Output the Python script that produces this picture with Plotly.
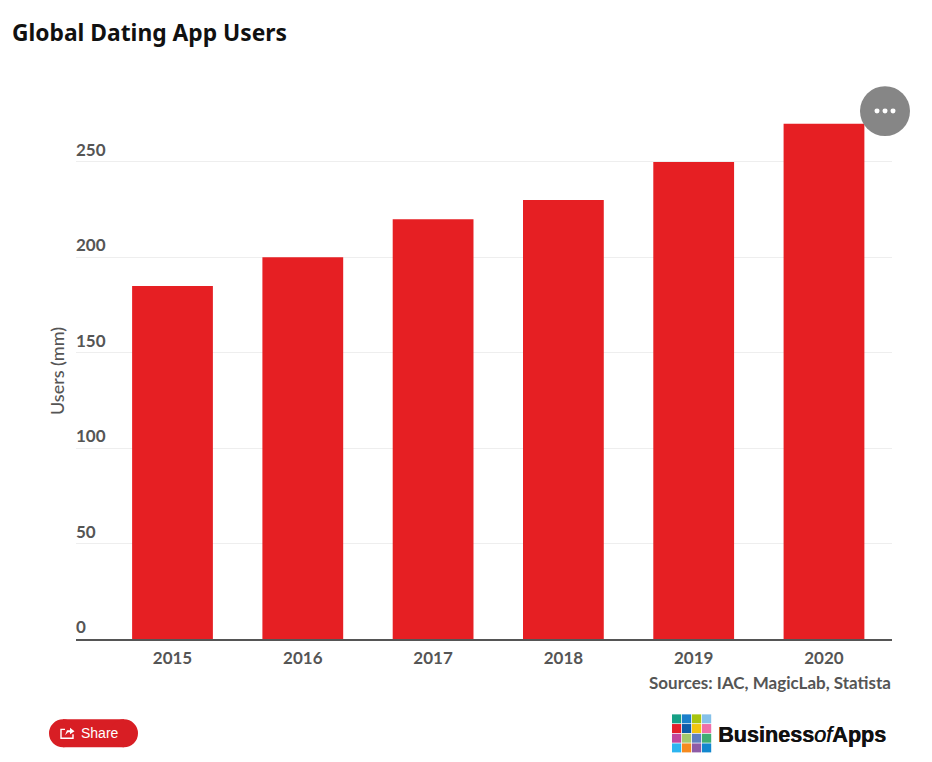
import plotly.graph_objects as go

years = ["2015", "2016", "2017", "2018", "2019", "2020"]
users = [185, 200, 220, 230, 250, 270]
y_ticks = [0, 50, 100, 150, 200, 250]
logo_colors = [
    ["#16A085", "#1B7FCB", "#A8C511", "#85C1E9"],
    ["#E5202A", "#0F5CA8", "#F1C40F", "#EE6FA8"],
    ["#C0479E", "#A5C96B", "#5F7FC0", "#3FAE72"],
    ["#2CB5F0", "#F58A1F", "#8E5BA6", "#1287CE"],
]

W, H = 932, 762
L, R, T, B = 76, 892, 109.5, 639.5


def px(x):
    return (x - L) / (R - L)


def py(y):
    return (B - y) / (B - T)


fig = go.Figure(
    go.Bar(x=years, y=users, marker=dict(color="#E61F23", line=dict(width=0)), width=0.62, hoverinfo="x+y")
)

shapes = [
    # more-options button
    dict(type="circle", xref="paper", yref="paper", x0=px(860), x1=px(910), y0=py(135.6), y1=py(85.6),
         fillcolor="#868686", line=dict(width=0)),
    # share pill
    dict(type="rect", xref="paper", yref="paper", x0=px(63), x1=px(124), y0=py(748), y1=py(720),
         fillcolor="#D81E24", line=dict(width=0)),
    dict(type="circle", xref="paper", yref="paper", x0=px(49), x1=px(77), y0=py(748), y1=py(720),
         fillcolor="#D81E24", line=dict(width=0)),
    dict(type="circle", xref="paper", yref="paper", x0=px(110), x1=px(138), y0=py(748), y1=py(720),
         fillcolor="#D81E24", line=dict(width=0)),
    # share icon
    dict(type="path", xref="paper", yref="paper",
         path=f"M {px(65)} {py(730)} L {px(61)} {py(730)} L {px(61)} {py(739)} L {px(73)} {py(739)} L {px(73)} {py(735)}",
         line=dict(color="white", width=1.4)),
    dict(type="path", xref="paper", yref="paper",
         path=f"M {px(65)} {py(736)} L {px(67)} {py(731)} L {px(70)} {py(731)} L {px(70)} {py(728.5)} L {px(74.5)} {py(732)} L {px(70)} {py(735)} L {px(70)} {py(733)} L {px(68)} {py(733)} Z",
         fillcolor="white", line=dict(width=0)),
]
for dot in (877, 885, 893):
    shapes.append(dict(type="circle", xref="paper", yref="paper", x0=px(dot - 2.5), x1=px(dot + 2.5),
                       y0=py(113), y1=py(108), fillcolor="white", line=dict(width=0)))
for r, row in enumerate(logo_colors):
    for c, col in enumerate(row):
        x0 = 672 + c * 10
        y0 = 715 + r * 9.7
        shapes.append(dict(type="rect", xref="paper", yref="paper", x0=px(x0), x1=px(x0 + 9.2),
                           y0=py(y0 + 9), y1=py(y0), fillcolor=col, line=dict(width=0)))

annotations = [
    dict(text="<b>Global Dating App Users</b>", xref="paper", yref="paper", x=px(9.5), y=py(32),
         xanchor="left", yanchor="middle", showarrow=False,
         font=dict(family="Noto Sans", size=22.8, color="#111111")),
    dict(text="Sources: IAC, MagicLab, Statista", xref="paper", yref="paper", x=px(893), y=py(683.5),
         xanchor="right", yanchor="middle", showarrow=False,
         font=dict(family="Lato", size=17, color="#555555", weight=700)),
    dict(text="Users (mm)", xref="paper", yref="paper", x=px(57), y=py(371), textangle=-90,
         xanchor="center", yanchor="middle", showarrow=False,
         font=dict(family="Lato", size=18, color="#555555", weight=500)),
    dict(text="Share", xref="paper", yref="paper", x=px(100), y=py(734),
         xanchor="center", yanchor="middle", showarrow=False,
         font=dict(family="Liberation Sans", size=14, color="white")),
    dict(text="<b>Business</b><i>of</i><b>Apps</b>", xref="paper", yref="paper", x=px(716), y=py(735),
         xanchor="left", yanchor="middle", showarrow=False,
         font=dict(family="Liberation Sans", size=21.6, color="#111111", shadow="0.5px 0 0 #111111")),
]

fig.update_layout(
    width=W,
    height=H,
    margin=dict(l=L, r=W - R, t=T, b=H - B, pad=0),
    paper_bgcolor="white",
    plot_bgcolor="white",
    showlegend=False,
    shapes=shapes,
    annotations=annotations,
    font=dict(family="Lato", color="#555555"),
    xaxis=dict(
        type="category",
        range=[-0.7406, 5.522],
        showgrid=False,
        ticks="",
        showline=True,
        linecolor="#555555",
        linewidth=2,
        ticklabelstandoff=3,
        tickfont=dict(family="Lato", size=17, color="#555555", weight=700),
        automargin=False,
    ),
    yaxis=dict(
        range=[0, 277.2],
        tickmode="array",
        tickvals=y_ticks,
        ticktext=[str(v) for v in y_ticks],
        ticklabelposition="inside top",
        ticklabelstandoff=-3,
        showgrid=True,
        gridcolor="#EEEEEE",
        gridwidth=1,
        zeroline=False,
        showline=False,
        ticks="",
        tickfont=dict(family="Lato", size=17, color="#555555", weight=700),
        automargin=False,
    ),
)

fig.write_html("out.html", config={"displayModeBar": False}, post_script="document.body.style.margin='0';")
